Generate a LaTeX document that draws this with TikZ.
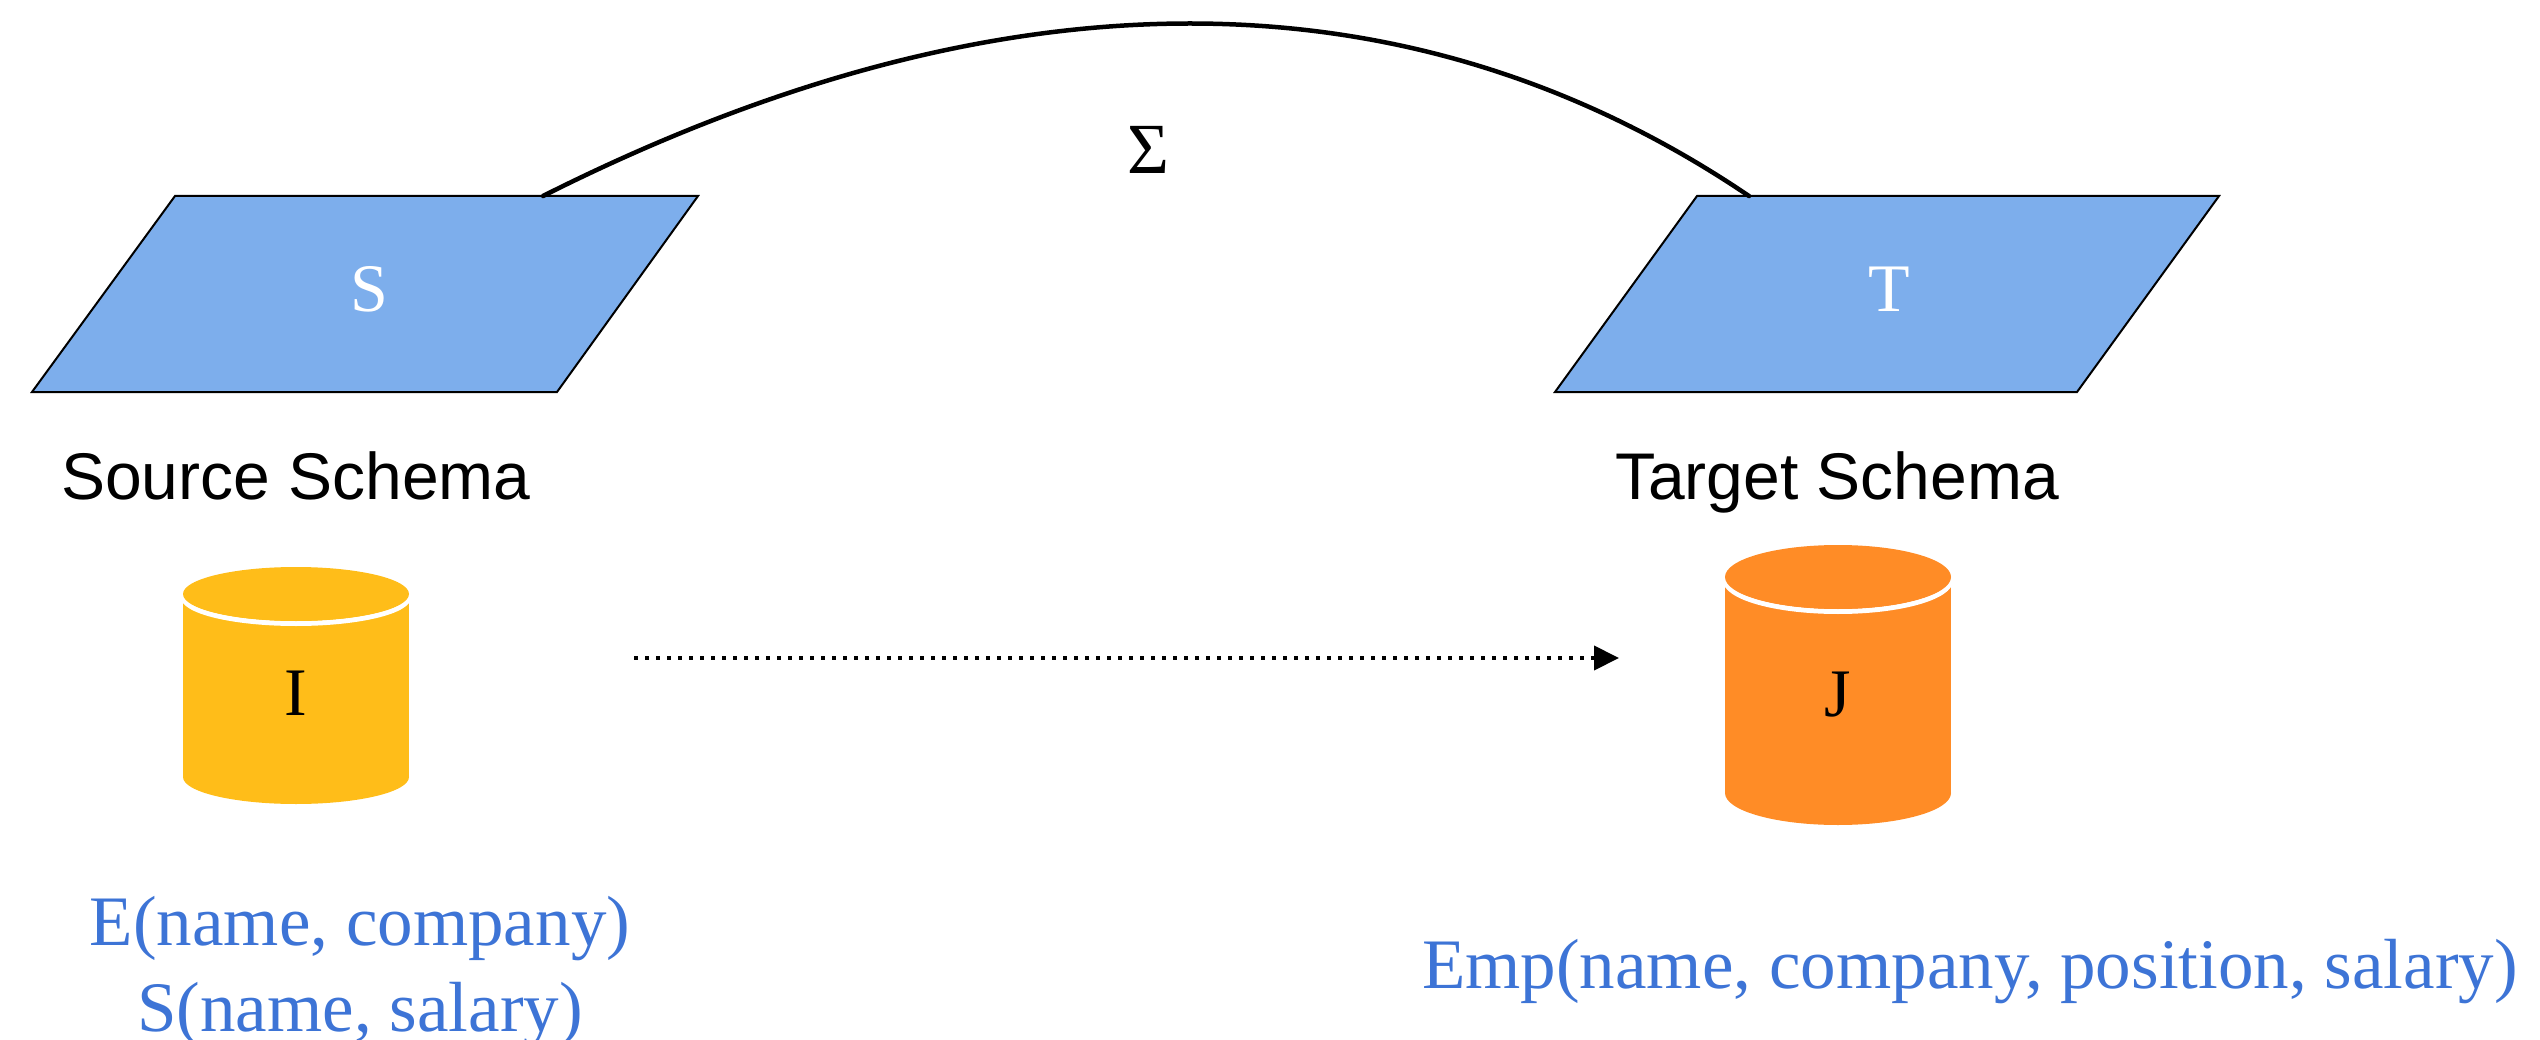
\documentclass[tikz,border=0pt]{standalone}
\usepackage{fontspec}
\setmainfont{Liberation Serif}
\newfontfamily\labelsans{Liberation Sans}
\usetikzlibrary{arrows.meta}
\definecolor{schemablue}{HTML}{7DAEEC}
\definecolor{dbyellow}{HTML}{FFBD19}
\definecolor{dborange}{HTML}{FF8C26}
\definecolor{reltext}{HTML}{3D74D6}
% database cylinder: centre x, x radius, top centre y, bottom centre y, y radius, colour
\newcommand\drawdb[6]{%
  \fill[#6] (#1-#2,#3) rectangle (#1+#2,#4);
  \fill[#6] (#1,#4) ellipse[x radius=#2, y radius=#5];
  \draw[white, line width=5pt] (#1,#3+2.5) ellipse[x radius=#2, y radius=#5];
  \fill[#6] (#1,#3) ellipse[x radius=#2, y radius=#5];
}
\begin{document}
\begin{tikzpicture}[x=1pt, y=-1pt,
  schema/.style={fill=schemablue, draw=black, line width=2pt, line join=miter},
  letter/.style={inner sep=0pt, anchor=base, font=\fontsize{68}{80}\selectfont},
  caption/.style={inner sep=0pt, anchor=base, font=\labelsans\fontsize{66}{78}\selectfont},
  relation/.style={inner sep=0pt, anchor=base, text=reltext, font=\fontsize{71}{86}\selectfont},
  mapping/.style={line width=4.5pt, line cap=round},
  flow/.style={line width=4pt, dash pattern=on 4pt off 7pt, -{Triangle[length=25pt, width=24pt]}},
]
\useasboundingbox (0,0) rectangle (2540,1040);

% schemas
\draw[schema] (175,196) -- (698,196) -- (557,392) -- (32,392) -- cycle;
\draw[schema] (1697,196) -- (2219,196) -- (2077,392) -- (1555,392) -- cycle;
\node[letter, text=white] (S) at (369,312) {S};
\node[letter, text=white] (T) at (1889,312) {T};
\node[caption] (srccap) at (296,499) {Source Schema};
\node[caption] (tgtcap) at (1837,499) {Target Schema};

% schema mapping
\coordinate (Stop) at (543,196);
\coordinate (Ttop) at (1749,196);
\draw[mapping] (Stop) .. controls (1000,-34) and (1409,-34) .. (Ttop);
\node[letter, font=\fontsize{72}{84}\selectfont] (sigma) at (1148,174) {Σ};

% instances
\drawdb{296}{113}{594}{777}{27}{dbyellow}
\drawdb{1838}{113}{577}{793}{32}{dborange}
\node[letter] (I) at (296,715) {I};
\node[letter] (J) at (1838,716) {J};

% data exchange
\coordinate (flowstart) at (634,658);
\coordinate (flowend) at (1619,658);
\draw[flow] (flowstart) -- (flowend);

% relations
\node[relation] (relE) at (360,945) {E(name, company)};
\node[relation] (relS) at (360,1031) {S(name, salary)};
\node[relation] (relEmp) at (1970,988) {Emp(name, company, position, salary)};
\end{tikzpicture}
\end{document}
